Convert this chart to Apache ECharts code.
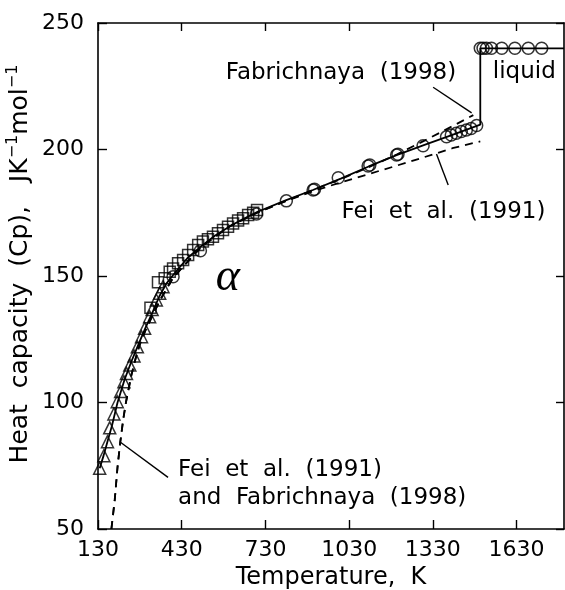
<!DOCTYPE html>
<html>
<head>
<meta charset="utf-8">
<script src="https://cdn.jsdelivr.net/npm/echarts@6/dist/echarts.min.js"></script>
<style>
  html, body { margin: 0; padding: 0; background: #fff; }
  #main { width: 565px; height: 590px; }
</style>
</head>
<body>
<div id="main"></div>
<script>
// 坐标轴刻度
const tempTicks = [130, 430, 730, 1030, 1330, 1630];

// 三角形数据点 (低温)
const triT  = [136, 151, 164, 172, 187, 199, 211, 223, 232, 244, 259, 271, 286, 297, 315, 324, 339, 351, 363];
const triCp = [74, 79, 84.5, 90, 95.5, 100.3, 104.3, 108.2, 111.5, 114.8, 118.4, 122, 126, 129.3, 133.9, 136.8, 140.5, 143.2, 145.8];

// 方形数据点
const sqT  = [318, 345, 369, 387, 399, 417, 435, 453, 471, 489, 506, 524, 542, 560, 578, 596, 614, 632, 650, 668, 686, 700];
const sqCp = [137.5, 147.5, 149.1, 151.7, 153, 155, 156.3, 158.3, 160.3, 162.3, 163.6, 164.5, 165.5, 166.9, 168.2, 169.5, 170.8, 171.9, 172.8, 174.1, 175, 176.1];

// 圆形数据点 (alpha 相)
const circT  = [399, 497, 698, 805, 901, 906, 991, 1098, 1104, 1200, 1205, 1295, 1379, 1396, 1414, 1432, 1450, 1467, 1487];
const circCp = [149.7, 160, 174.5, 179.7, 184, 184.3, 188.8, 193.5, 193.9, 197.8, 198.1, 201.5, 205, 205.7, 206.4, 207.1, 207.7, 208.3, 209.5];

// 液相
const liqT  = [1500, 1510, 1522, 1540, 1577, 1624, 1672, 1720];
const liqCp = [240, 240, 240, 240, 240, 240, 240, 240];

// 实线 (拟合)
const fitT  = [136, 150, 165, 180, 200, 225, 250, 275, 300, 325, 350, 375, 400, 450, 500, 550, 600, 650, 700, 800, 900, 1000, 1100, 1200, 1300, 1400, 1500, 1500, 1800];
const fitCp = [74, 79, 85, 90.8, 100, 109, 116.3, 123, 129.5, 135.5, 142, 147, 150.5, 157, 161.8, 166, 169.5, 172.5, 175.3, 179.8, 184, 188.5, 193.3, 197.8, 201.8, 205.8, 209.8, 240, 240];

// 虚线 Fei et al. (1991)
const feiT  = [178, 190, 200, 210, 220, 230, 240, 250, 265, 280, 300, 350, 400, 500, 600, 700, 800, 900, 1000, 1100, 1200, 1300, 1400, 1500];
const feiCp = [50, 61.5, 74.5, 84.5, 93, 100, 105.5, 111, 117.5, 123, 128.5, 140, 149.5, 161.5, 169.5, 175, 179.5, 183.5, 187, 190.3, 193.6, 197, 200.5, 203.2];

// 虚线 Fabrichnaya (1998)
const fabT  = [178, 190, 200, 210, 220, 230, 240, 250, 265, 280, 300, 350, 400, 500, 600, 700, 800, 900, 1000, 1100, 1200, 1300, 1400, 1475];
const fabCp = [50, 61.5, 74.5, 84.5, 93, 100, 105.5, 111, 117.5, 123, 128.5, 140, 149.5, 161.5, 169.5, 175, 179.5, 184, 188.3, 193, 198, 203.5, 209.2, 213.6];

const pairs = (xs, ys) => xs.map((x, i) => [x, ys[i]]);

const FONT = '"DejaVu Sans", sans-serif';
const black = '#000';

const chart = echarts.init(document.getElementById('main'), null, { renderer: 'canvas' });

const hollow = { color: 'rgba(0,0,0,0)', borderColor: black, borderWidth: 1.5 };

const option = {
  animation: false,
  backgroundColor: '#fff',
  grid: { left: 98, right: 1, top: 23, bottom: 61, outerBoundsMode: 'none' },
  xAxis: [
    {
      type: 'value', min: 130, max: 1800,
      name: 'Temperature,  K', nameLocation: 'middle', nameGap: 29,
      nameTextStyle: { fontSize: 24, fontFamily: FONT, color: black },
      axisLine: { lineStyle: { color: black, width: 1.6 } },
      axisTick: { inside: true, length: 9, customValues: tempTicks, lineStyle: { color: black, width: 1.4 } },
      axisLabel: { customValues: tempTicks, formatter: v => String(v), fontSize: 22, fontFamily: FONT, color: black, margin: 10 },
      splitLine: { show: false }
    },
    {
      type: 'value', min: 130, max: 1800, position: 'top',
      axisLine: { lineStyle: { color: black, width: 1.6 } },
      axisTick: { inside: true, length: 8, customValues: tempTicks, lineStyle: { color: black, width: 1.4 } },
      axisLabel: { show: false },
      splitLine: { show: false }
    }
  ],
  yAxis: [
    {
      type: 'value', min: 50, max: 250, interval: 50,
      axisLine: { show: true, lineStyle: { color: black, width: 1.6 } },
      axisTick: { show: true, inside: true, length: 9, lineStyle: { color: black, width: 1.4 } },
      axisLabel: { fontSize: 22, fontFamily: FONT, color: black, margin: 14 },
      splitLine: { show: false }
    },
    {
      type: 'value', min: 50, max: 250, interval: 50, position: 'right',
      axisLine: { show: true, lineStyle: { color: black, width: 1.6 } },
      axisTick: { show: true, inside: true, length: 8, lineStyle: { color: black, width: 1.4 } },
      axisLabel: { show: false },
      splitLine: { show: false }
    }
  ],
  series: [
    {
      type: 'line', data: pairs(fitT, fitCp), symbol: 'none', z: 2,
      lineStyle: { color: black, width: 1.8 }
    },
    {
      type: 'line', data: pairs(feiT, feiCp), symbol: 'none', z: 2,
      lineStyle: { color: black, width: 1.8, type: [8, 6] }
    },
    {
      type: 'line', data: pairs(fabT, fabCp), symbol: 'none', z: 2,
      lineStyle: { color: black, width: 1.8, type: [8, 6] }
    },
    { type: 'scatter', data: pairs(triT, triCp), symbol: 'triangle', symbolSize: 12, itemStyle: hollow, z: 3 },
    { type: 'scatter', data: pairs(sqT, sqCp), symbol: 'rect', symbolSize: 11, itemStyle: hollow, z: 3 },
    { type: 'scatter', data: pairs(circT, circCp), symbol: 'circle', symbolSize: 12, itemStyle: hollow, z: 3 },
    { type: 'scatter', data: pairs(liqT, liqCp), symbol: 'circle', symbolSize: 12, itemStyle: hollow, z: 3 }
  ]
};

chart.setOption(option);

// 注释文字和引线 (数据坐标)
const toPx = p => chart.convertToPixel({ gridIndex: 0 }, p);
const notes = [
  { text: 'Fabrichnaya  (1998)', at: [588, 230.4] },
  { text: 'liquid', at: [1545, 230.6] },
  { text: 'Fei  et  al.  (1991)', at: [1003, 175.3] },
  { text: 'Fei  et  al.  (1991)', at: [417, 73.3] },
  { text: 'and  Fabrichnaya  (1998)', at: [417, 62.1] }
];
const leaders = [
  [[1331, 224.6], [1469, 214.5]],
  [[1343, 198.2], [1385, 186]],
  [[208, 84.5], [381, 70.4]]
];

const graphic = [];
notes.forEach(n => {
  const p = toPx(n.at);
  graphic.push({
    type: 'text', x: p[0], y: p[1], z: 10,
    style: { text: n.text, fontSize: 23, fontFamily: FONT, fill: black, align: 'left', verticalAlign: 'middle' }
  });
});
leaders.forEach(l => {
  const a = toPx(l[0]), b = toPx(l[1]);
  graphic.push({
    type: 'line', z: 10,
    shape: { x1: a[0], y1: a[1], x2: b[0], y2: b[1] },
    style: { stroke: black, lineWidth: 1.4 }
  });
});
const ap = toPx([595, 149.2]);
graphic.push({
  type: 'text', x: ap[0], y: ap[1], z: 10,
  style: { text: 'α', fontSize: 46, fontStyle: 'italic', fontFamily: '"Liberation Serif", serif', fill: black, align: 'center', verticalAlign: 'middle' }
});
// y 轴标题 (带上标)
graphic.push({
  type: 'text', x: 20, y: 264, rotation: Math.PI / 2, z: 10,
  style: {
    text: 'Heat  capacity  (Cp),   JK{s|−1}mol{s|−1}',
    fontSize: 25, fontFamily: FONT, fill: black, align: 'center', verticalAlign: 'middle',
    rich: { s: { fontSize: 16, fontFamily: FONT, fill: black, verticalAlign: 'top', lineHeight: 31 } }
  }
});

chart.setOption({ graphic: graphic });
</script>
</body>
</html>
